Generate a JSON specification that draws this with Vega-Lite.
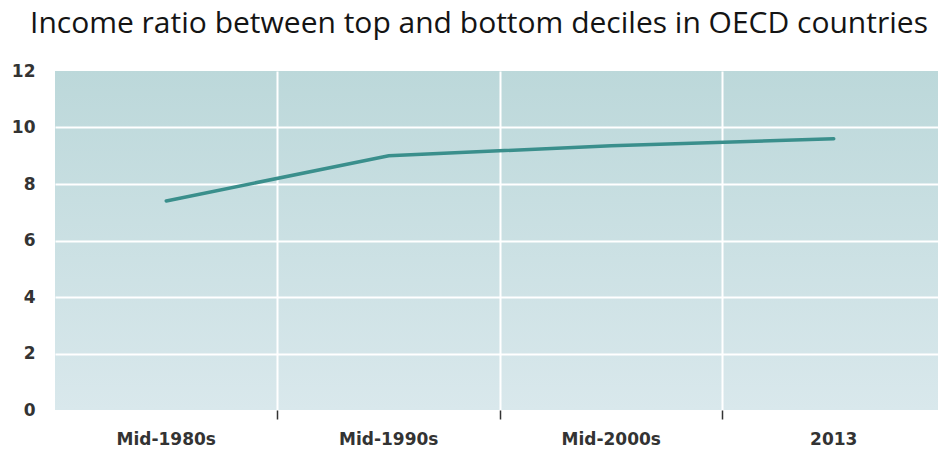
{
  "$schema": "https://vega.github.io/schema/vega-lite/v6.json",
  "width": 883,
  "height": 339,
  "autosize": {"type": "none"},
  "padding": {"left": 55, "top": 71, "right": 0, "bottom": 43},
  "background": "white",
  "title": {
    "text": "Income ratio between top and bottom deciles in OECD countries",
    "anchor": "start",
    "frame": "group",
    "dx": -25,
    "dy": 2,
    "font": "Open Sans",
    "fontSize": 30,
    "fontWeight": "normal",
    "color": "#141414",
    "baseline": "alphabetic",
    "offset": 1
  },
  "data": {
    "values": [
      {"period": "Mid-1980s", "ratio": 7.4},
      {"period": "Mid-1990s", "ratio": 9.0},
      {"period": "Mid-2000s", "ratio": 9.35},
      {"period": "2013", "ratio": 9.6}
    ]
  },
  "mark": {"type": "line", "color": "#3a8f8c", "strokeWidth": 3.5, "strokeCap": "round"},
  "encoding": {
    "x": {
      "field": "period",
      "type": "nominal",
      "sort": null,
      "bandPosition": 0.5,
      "scale": {"type": "band", "paddingInner": 0, "paddingOuter": 0, "range": [0, 890]},
      "axis": {
        "title": null,
        "domain": false,
        "bandPosition": 0,
        "grid": true,
        "gridColor": {"condition": {"test": "datum.value === 'Mid-1980s'", "value": "transparent"}, "value": "white"},
        "gridWidth": 2,
        "ticks": true,
        "tickSize": 9,
        "tickWidth": 1.5,
        "tickColor": {"condition": {"test": "datum.value === 'Mid-1980s'", "value": "transparent"}, "value": "#333333"},
        "labelPadding": 12,
        "labelAngle": 0,
        "labelFont": "DejaVu Sans",
        "labelFontWeight": "bold",
        "labelFontSize": 17,
        "labelColor": "#333333"
      }
    },
    "y": {
      "field": "ratio",
      "type": "quantitative",
      "scale": {"domain": [0, 12], "nice": false},
      "axis": {
        "title": null,
        "domain": false,
        "ticks": false,
        "values": [0, 2, 4, 6, 8, 10, 12],
        "grid": true,
        "gridColor": {"condition": {"test": "datum.value === 0 || datum.value === 12", "value": "transparent"}, "value": "white"},
        "gridWidth": 2,
        "labelPadding": 20,
        "labelFont": "DejaVu Sans",
        "labelFontWeight": "bold",
        "labelFontSize": 17,
        "labelColor": "#333333"
      }
    }
  },
  "config": {
    "view": {
      "stroke": null,
      "fill": {
        "gradient": "linear",
        "x1": 0, "y1": 0, "x2": 0, "y2": 1,
        "stops": [
          {"offset": 0, "color": "#bcd8da"},
          {"offset": 1, "color": "#d9e8ec"}
        ]
      }
    }
  }
}
